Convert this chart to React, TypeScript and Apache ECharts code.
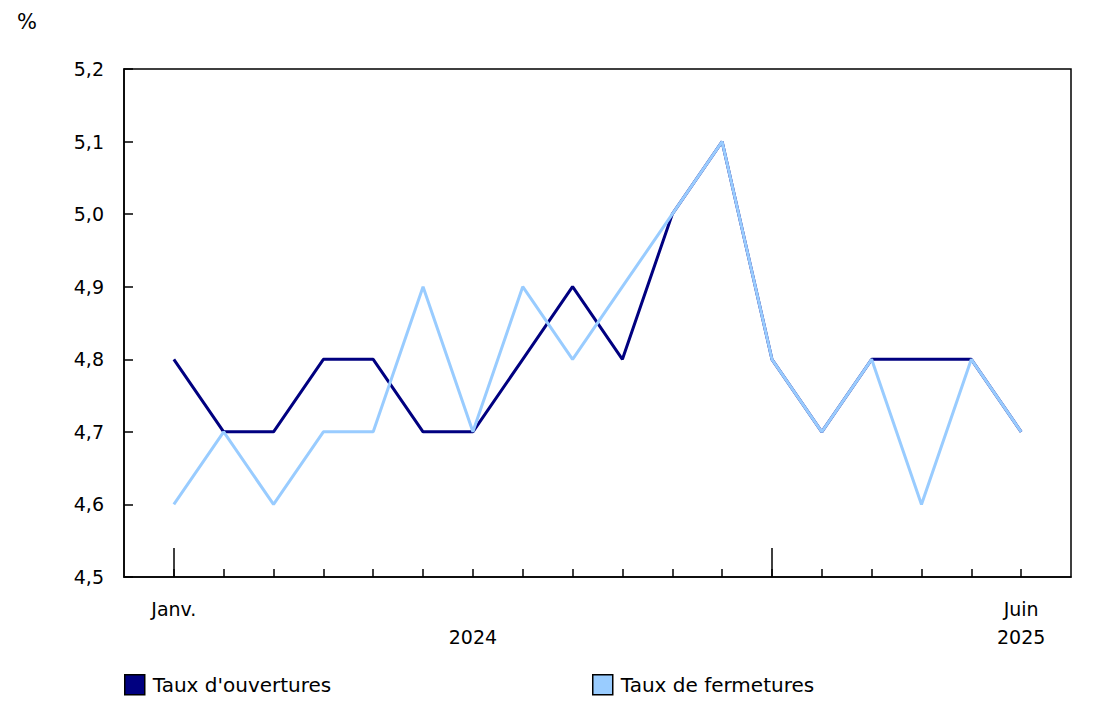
import React, { useEffect, useRef } from "react";
import * as echarts from "echarts";

const months = ["", "Janv.", "Févr.", "Mars", "Avr.", "Mai", "Juin", "Juil.", "Août", "Sept.", "Oct.", "Nov.", "Déc.", "Janv.", "Févr.", "Mars", "Avr.", "Mai", "Juin", ""];
const openings = [null, 4.8, 4.7, 4.7, 4.8, 4.8, 4.7, 4.7, 4.8, 4.9, 4.8, 5.0, 5.1, 4.8, 4.7, 4.8, 4.8, 4.8, 4.7, null];
const closures = [null, 4.6, 4.7, 4.6, 4.7, 4.7, 4.9, 4.7, 4.9, 4.8, 4.9, 5.0, 5.1, 4.8, 4.7, 4.8, 4.6, 4.8, 4.7, null];
const axisLabels: Record<number, string> = { 1: "Janv.", 7: "\n2024", 18: "Juin\n2025" };
const yearStarts = [1, 13];

export default function App() {
  const ref = useRef<HTMLDivElement>(null);
  useEffect(() => {
    const chart = echarts.init(ref.current!, null, { renderer: "svg" });
    const font = "'DejaVu Sans', Verdana, sans-serif";
    const fs = 19;
    const last = months.length - 1;
    const legendText = { fontSize: 20, fontFamily: font, color: "#000", padding: [0, 0, 0, 3] };
    chart.setOption({
      animation: false,
      textStyle: { fontFamily: font },
      grid: { left: 124, right: 22, top: 69, bottom: 135, show: true, borderColor: "#000", borderWidth: 1.5, containLabel: false },
      graphic: [
        { type: "text", left: 17, top: 11, style: { text: "%", fontSize: 21, fontFamily: font, fill: "#000" } },
      ],
      legend: [
        { data: ["Taux d'ouvertures"], left: 124, top: 674, padding: 0, icon: "rect", itemWidth: 20, itemHeight: 20, itemGap: 6, textStyle: legendText, itemStyle: { borderColor: "#000", borderWidth: 1.5 } },
        { data: ["Taux de fermetures"], left: 592, top: 674, padding: 0, icon: "rect", itemWidth: 20, itemHeight: 20, itemGap: 6, textStyle: legendText, itemStyle: { borderColor: "#000", borderWidth: 1.5 } },
      ],
      xAxis: [
        {
          type: "category",
          data: months,
          boundaryGap: false,
          axisLine: { lineStyle: { color: "#000", width: 1.5 } },
          axisTick: { inside: true, length: 8, lineStyle: { color: "#000", width: 1.5 }, interval: (i: number) => i > 0 && i < last },
          axisLabel: {
            interval: 0,
            margin: 18,
            fontSize: fs,
            lineHeight: 28,
            color: "#000",
            fontFamily: font,
            formatter: (_v: string, i: number) => axisLabels[i] ?? "",
          },
          splitLine: { show: false },
        },
        {
          type: "category",
          data: months,
          boundaryGap: false,
          position: "bottom",
          axisLine: { show: false },
          axisTick: { inside: true, length: 29, lineStyle: { color: "#000", width: 1.5 }, interval: (i: number) => yearStarts.includes(i) },
          axisLabel: { show: false },
          splitLine: { show: false },
        },
      ],
      yAxis: {
        type: "value",
        min: 4.5,
        max: 5.2,
        interval: 0.1,
        axisLine: { show: true, lineStyle: { color: "#000", width: 1.5 } },
        axisTick: { show: true, inside: true, length: 9, lineStyle: { color: "#000", width: 1.5 } },
        axisLabel: { fontSize: fs, color: "#000", margin: 20, fontFamily: font, formatter: (v: number) => v.toFixed(1).replace(".", ",") },
        splitLine: { show: false },
      },
      series: [
        { name: "Taux d'ouvertures", type: "line", data: openings, symbol: "none", itemStyle: { color: "#000080" }, lineStyle: { color: "#000080", width: 3 }, z: 2 },
        { name: "Taux de fermetures", type: "line", data: closures, symbol: "none", itemStyle: { color: "#99ccff" }, lineStyle: { color: "#99ccff", width: 3 }, z: 3 },
      ],
    });
    return () => chart.dispose();
  }, []);
  return <div ref={ref} style={{ width: 1093, height: 712, position: "absolute", left: 0, top: 0 }} />;
}
